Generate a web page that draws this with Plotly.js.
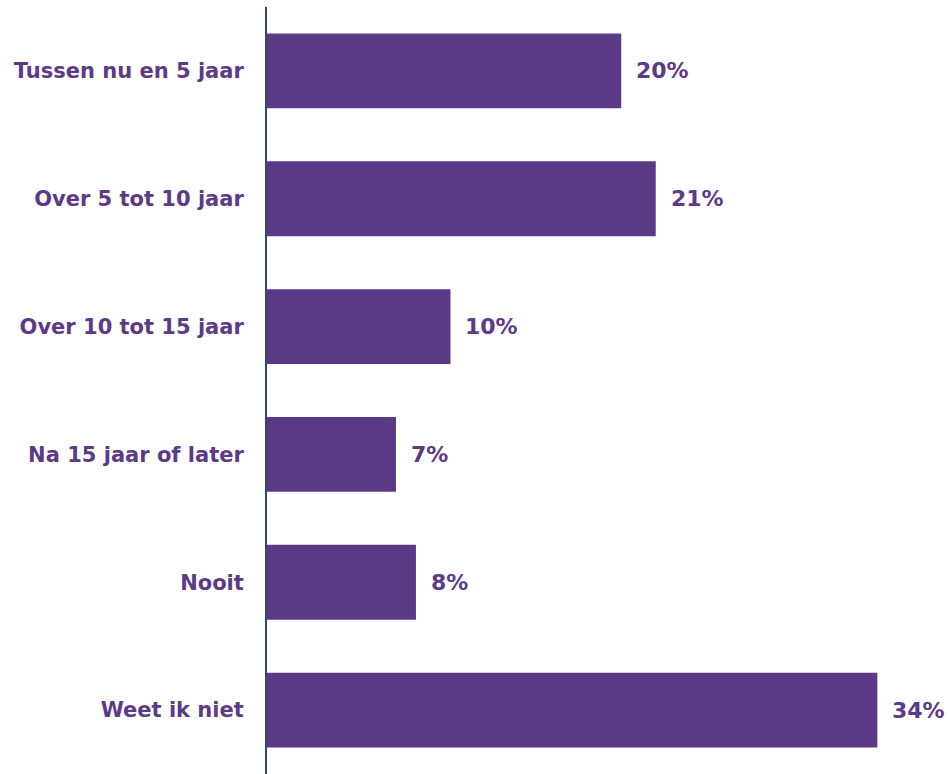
<!DOCTYPE html>
<html>
<head>
<meta charset="utf-8">
<script src="https://cdn.plot.ly/plotly-3.0.1.min.js"></script>
<style>html,body{margin:0;padding:0;background:#fff;}#chart{width:950px;height:774px;}</style>
</head>
<body>
<div id="chart"></div>
<script>
var categories = ["Tussen nu en 5 jaar", "Over 5 tot 10 jaar", "Over 10 tot 15 jaar", "Na 15 jaar of later", "Nooit", "Weet ik niet"];
var values = [19.5, 21.4, 10.1, 7.1, 8.2, 33.6];
var labels = ["20%", "21%", "10%", "7%", "8%", "34%"];

var purple = "#5B3A85";
var textColor = "#5B3A87";
var font = "DejaVu Sans, Verdana, sans-serif";

var trace = {
  type: "bar",
  orientation: "h",
  x: values,
  y: categories,
  marker: {color: purple},
  hoverinfo: "none"
};

var annotations = categories.map(function(c, i) {
  return {
    x: values[i], y: c, xref: "x", yref: "y",
    text: labels[i], showarrow: false,
    xanchor: "left", yanchor: "middle", xshift: 13,
    font: {family: font, size: 22, color: textColor, weight: "bold"}
  };
});

var layout = {
  width: 950, height: 774,
  margin: {l: 267, r: 0, t: 7, b: 0},
  paper_bgcolor: "#fff", plot_bgcolor: "#fff",
  bargap: 0.415,
  showlegend: false,
  xaxis: {range: [0, 37.6], visible: false, showgrid: false, zeroline: false, fixedrange: true},
  yaxis: {
    autorange: "reversed",
    showline: true, linecolor: "#2F4A6B", linewidth: 2,
    showgrid: false, zeroline: false, ticks: "",
    ticklabelstandoff: 17,
    tickfont: {family: font, size: 21, color: textColor, weight: "bold"}
  },
  annotations: annotations
};

Plotly.newPlot("chart", [trace], layout, {displayModeBar: false, staticPlot: true});
</script>
</body>
</html>
